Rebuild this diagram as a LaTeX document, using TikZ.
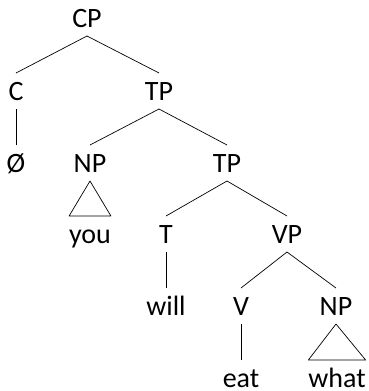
\documentclass[tikz,border=0pt]{standalone}
\usepackage{fontspec}
\setmainfont{Carlito}

\begin{document}
\begin{tikzpicture}[x = 1pt, y = -1pt,
        cat/.style = {anchor = base, inner sep = 0pt, outer xsep = 0pt, outer ysep = 9pt,
            text height = 18pt, text depth = 0pt, font = \fontsize{28}{30}\selectfont},
        branch/.style = {line width = 0.7pt, line join = round}]
    \useasboundingbox (0, 0) rectangle (368, 391);

    % baselines of the six levels
    \def\la{27}
    \def\lb{100}
    \def\lc{172}
    \def\ld{243}
    \def\le{315}
    \def\lf{387}

    \node[cat] (cp) at (87, \la) {CP};

    \node[cat] (c) at (16, \lb) {C};
    \node[cat] (tp) at (159, \lb) {TP};

    \node[cat] (zero) at (16, \lc) {Ø};
    \node[cat] (np) at (90, \lc) {NP};
    \node[cat] (tpb) at (227, \lc) {TP};

    \node[cat] (you) at (90, \ld) {you};
    \node[cat] (t) at (166, \ld) {T};
    \node[cat] (vp) at (287, \ld) {VP};

    \node[cat] (will) at (166, \le) {will};
    \node[cat] (v) at (241, \le) {V};
    \node[cat] (npb) at (336, \le) {NP};

    \node[cat] (eat) at (241, \lf) {eat};
    \node[cat] (what) at (337, \lf) {what};

    \foreach \p/\c in {cp/c, cp/tp, c/zero, tp/np, tp/tpb, tpb/t, tpb/vp, t/will, vp/v, vp/npb, v/eat}{
        \draw[branch] (\p.south) -- (\c.north);
    }

    % phrases left unanalysed
    \foreach \p/\c in {np/you, npb/what}{
        \draw[branch] (\p.south) -- (\c.north west) -- (\c.north east) -- cycle;
    }
\end{tikzpicture}
\end{document}
